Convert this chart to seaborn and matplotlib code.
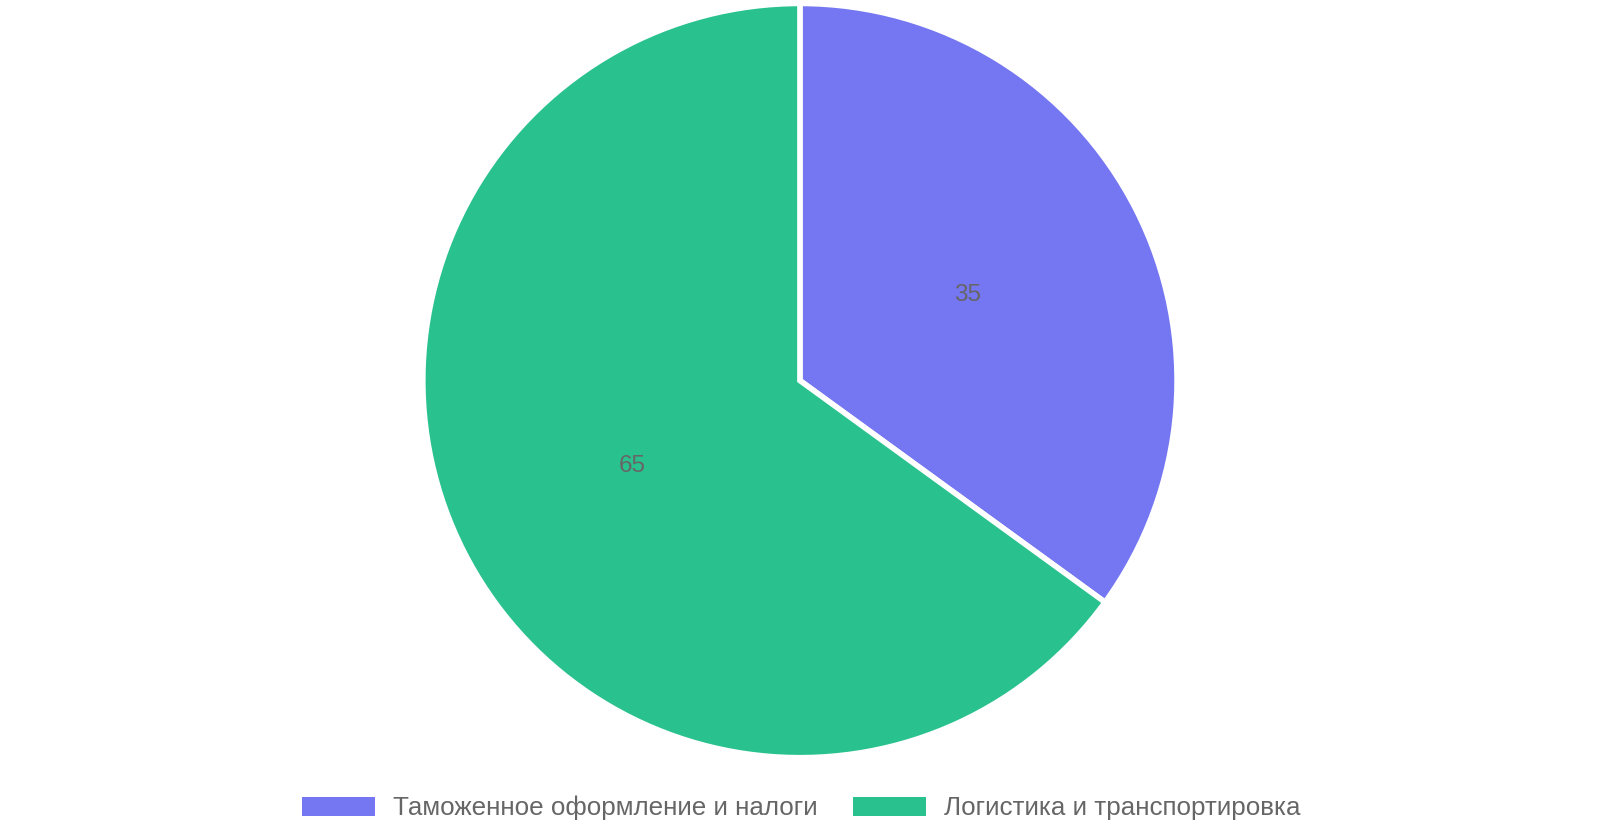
import numpy as np
import seaborn as sns
import matplotlib.pyplot as plt
from matplotlib.patches import Patch

# Data
categories = ["Таможенное оформление и налоги", "Логистика и транспортировка"]
values = [35, 65]
colors = ["#7476F2", "#29C28F"]

sns.set_theme(style="white")
plt.rcParams['font.family'] = ['Liberation Sans', 'DejaVu Sans']

fig = plt.figure(figsize=(16, 8.4), dpi=100)
ax = fig.add_axes([0.26426, 0.0980, 0.4714, 0.8979])

palette = sns.color_palette(colors)
wedges, texts, autotexts = ax.pie(
    values,
    colors=palette,
    startangle=90,
    counterclock=False,
    autopct=lambda p: f"{p:.0f}",
    pctdistance=0.5,
    wedgeprops=dict(edgecolor="white", linewidth=4),
    textprops=dict(color="#666666", fontsize=17.5),
)
ax.set_xlim(-1, 1)
ax.set_ylim(-1, 1)

# legend boxes without the white wedge edge
handles = [Patch(facecolor=c, edgecolor="none") for c in palette]
fig.legend(
    handles, categories,
    loc="center", bbox_to_anchor=(0.5006, 0.0381),
    ncol=2, frameon=False, fontsize=18.7,
    handlelength=2.83, handleheight=0.76,
    handletextpad=0.67, columnspacing=1.37,
    labelcolor="#666666",
)

fig.savefig("out.png", dpi=100)
